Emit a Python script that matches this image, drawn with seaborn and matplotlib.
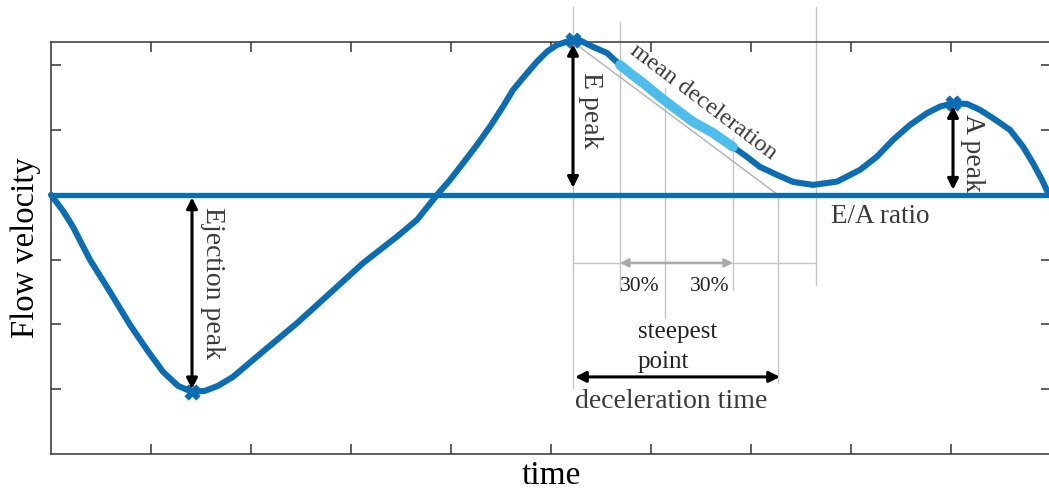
import numpy as np
import pandas as pd
import matplotlib
matplotlib.use("Agg")
import matplotlib.pyplot as plt
import seaborn as sns

# ---- data (time in [0,1], velocity in tick units) ----
time_pts = [0.000, 0.012, 0.022, 0.039, 0.059, 0.079, 0.096, 0.112, 0.127, 0.141,
            0.154, 0.167, 0.182, 0.212, 0.246, 0.279, 0.312, 0.346, 0.366, 0.386,
            0.399, 0.412, 0.426, 0.439, 0.452, 0.462, 0.476, 0.486, 0.496, 0.506,
            0.516, 0.522, 0.530, 0.542, 0.556, 0.569, 0.580, 0.592, 0.609, 0.626,
            0.642, 0.662, 0.682, 0.696, 0.709, 0.726, 0.742, 0.762, 0.786, 0.809,
            0.826, 0.842, 0.859, 0.876, 0.889, 0.902, 0.916, 0.929, 0.942, 0.959,
            0.972, 0.982, 0.991, 0.998]
flow_pts = [0.000, -0.247, -0.494, -1.003, -1.497, -2.006, -2.392, -2.731, -2.948, -3.040,
            -3.025, -2.948, -2.809, -2.418, -1.980, -1.517, -1.054, -0.644, -0.386, 0.000,
            0.231, 0.489, 0.772, 1.054, 1.363, 1.620, 1.878, 2.057, 2.211, 2.315,
            2.366, 2.385, 2.377, 2.284, 2.191, 2.006, 1.867, 1.728, 1.512, 1.312,
            1.127, 0.957, 0.741, 0.586, 0.432, 0.309, 0.201, 0.154, 0.205, 0.386,
            0.591, 0.849, 1.080, 1.261, 1.363, 1.415, 1.404, 1.312, 1.184, 1.003,
            0.745, 0.489, 0.231, 0.000]
peak_labels = ["Ejection peak", "E peak", "A peak"]
peak_t = [0.141, 0.522, 0.902]
peak_v = [-3.040, 2.385, 1.415]
decel_start, decel_end = 0.569, 0.682      # highlighted "mean deceleration" span
steepest_t = 0.614
dt_end = 0.727                              # tangent reaches zero -> deceleration time end
ea_end = 0.765                              # E/A window end
x_ticks = [0.1, 0.2, 0.3, 0.4, 0.5, 0.6, 0.7, 0.8, 0.9]
y_ticks = [-3, -2, -1, 0, 1, 2]

BLUE = "#0b6db3"
LIGHT = "#4dbdeb"
GRAY = "#c4c4c4"
TXT = "#3a3a3a"

sns.set_theme(style="white")
plt.rcParams["font.family"] = ["Liberation Serif", "DejaVu Serif"]

df = pd.DataFrame({"time": time_pts, "flow": flow_pts})
seg = df[(df["time"] >= decel_start - 1e-9) & (df["time"] <= decel_end + 1e-9)]

fig = plt.figure(figsize=(10.49, 4.91), dpi=100)
ax = fig.add_axes([51 / 1049, 1 - 454 / 491, 1000 / 1049, 412 / 491])

# thin gray construction lines
def vline(x, y0, y1):
    ax.plot([x, x], [y0, y1], color=GRAY, lw=1.0, zorder=1, clip_on=False)

vline(peak_t[1], -2.98, 2.90)
vline(decel_start, -1.50, 2.67)
vline(steepest_t, -1.90, 1.65)
vline(decel_end, -1.47, 0.88)
vline(dt_end, -2.90, -0.05)
vline(ea_end, -1.39, 2.90)
ax.plot([peak_t[1], ea_end], [-1.05, -1.05], color=GRAY, lw=1.0, zorder=1)
ax.plot([peak_t[1], dt_end], [2.36, 0.0], color="#b0b0b0", lw=1.0, zorder=1)
ax.annotate("", xy=(decel_end, -1.05), xytext=(decel_start, -1.05),
            arrowprops=dict(arrowstyle="<|-|>", color="#aaaaaa", lw=1.8,
                            mutation_scale=12, shrinkA=0, shrinkB=0), zorder=2)

# zero line and curves
ax.axhline(0, color=BLUE, lw=3.8, zorder=3)
sns.lineplot(data=df, x="time", y="flow", sort=False, color=BLUE, lw=4.4,
             ax=ax, zorder=4, clip_on=False, solid_joinstyle="round",
             solid_capstyle="round")
sns.lineplot(data=seg, x="time", y="flow", sort=False, color=LIGHT, lw=7.0,
             ax=ax, zorder=5, solid_joinstyle="round")
sns.scatterplot(x=peak_t, y=peak_v, marker="X", s=120, color=BLUE,
                edgecolor=BLUE, linewidth=0.5, ax=ax, zorder=6, clip_on=False)

# black measurement arrows
def darrow(p0, p1):
    ax.annotate("", xy=p1, xytext=p0,
                arrowprops=dict(arrowstyle="<|-|>", color="black", lw=2.2,
                                mutation_scale=16, shrinkA=0, shrinkB=0), zorder=7)

darrow((peak_t[0], -0.04), (peak_t[0], -3.0))
darrow((peak_t[1], 2.33), (peak_t[1], 0.11))
darrow((peak_t[2], 1.37), (peak_t[2], 0.08))
darrow((peak_t[1] + 0.002, -2.81), (dt_end + 0.002, -2.81))

# text labels
ax.text(0.162, -1.36, peak_labels[0], rotation=270, ha="center", va="center",
        fontsize=20, color=TXT, zorder=2)
ax.text(0.539, 1.30, peak_labels[1], rotation=270, ha="center", va="center",
        fontsize=20, color=TXT, zorder=2)
ax.text(0.921, 0.64, peak_labels[2], rotation=270, ha="center", va="center",
        fontsize=20, color=TXT, zorder=2)
ax.text(0.652, 1.44, "mean deceleration", rotation=-37, rotation_mode="anchor",
        ha="center", va="center", fontsize=17.5, color=TXT, zorder=8)
ax.text(0.829, -0.34, "E/A ratio", ha="center", va="center", fontsize=19.5, color=TXT)
ax.text(0.589, -1.42, "30%", ha="center", va="center", fontsize=15.5, color="#222222")
ax.text(0.659, -1.42, "30%", ha="center", va="center", fontsize=15.5, color="#222222")
ax.text(0.587, -2.11, "steepest", ha="left", va="center", fontsize=18, color="#222222")
ax.text(0.587, -2.58, "point", ha="left", va="center", fontsize=18, color="#222222")
ax.text(0.524, -3.19, "deceleration time", ha="left", va="center", fontsize=20, color=TXT)

# axes styling
ax.set_xlim(0, 1)
ax.set_ylim(-4.0, 2.36)
ax.set_xticks(x_ticks)
ax.set_yticks(y_ticks)
ax.set_xticklabels([])
ax.set_yticklabels([])
ax.tick_params(direction="in", length=7, width=1.1, color="#333333",
               top=True, bottom=True, left=True, right=True)
for s in ax.spines.values():
    s.set_color("#333333")
    s.set_linewidth(1.1)
    s.set_visible(True)
ax.set_xlabel("time", fontsize=24, color="black", labelpad=1)
ax.set_ylabel("Flow velocity", fontsize=23.5, color="black", labelpad=4)
ax.set_facecolor("white")
fig.patch.set_facecolor("white")

fig.savefig("out.png", dpi=100, facecolor="white")
